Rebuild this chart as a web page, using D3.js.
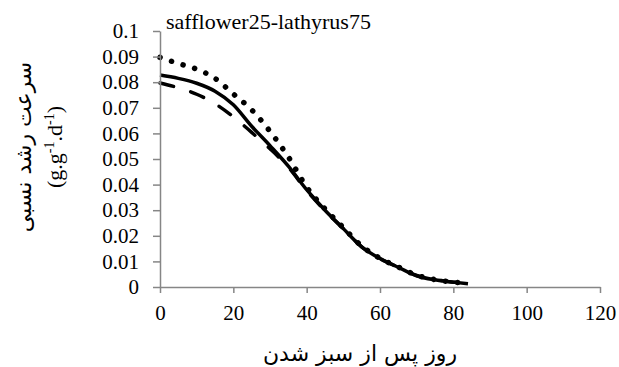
<!DOCTYPE html>
<html>
<head>
<meta charset="utf-8">
<script src="https://cdn.jsdelivr.net/npm/d3@7"></script>
</head>
<body style="margin:0">
<div id="chart"></div>
<script>
// days after emergence
const days = [0, 5, 10, 15, 20, 25, 30, 35, 40, 45, 50, 55, 60, 65, 70, 75, 80, 84];
// relative growth rate, three curves
const dotted = [0.0897, 0.0873, 0.0851, 0.0815, 0.0754, 0.0692, 0.0608, 0.0508, 0.0390, 0.0305, 0.0232, 0.0160, 0.0112, 0.0078, 0.0046, 0.0029, 0.0019, 0.0014];
const solid  = [0.0828, 0.0815, 0.0796, 0.0765, 0.0712, 0.0628, 0.0552, 0.0472, 0.0380, 0.0300, 0.0228, 0.0157, 0.0111, 0.0077, 0.0044, 0.0028, 0.0019, 0.0013];
const dashed = [0.0797, 0.0778, 0.0753, 0.0716, 0.0665, 0.0604, 0.0540, 0.0468, 0.0377, 0.0298, 0.0228, 0.0157, 0.0111, 0.0077, 0.0045, 0.0029, 0.0019, 0.0014];
const xTicks = [0, 20, 40, 60, 80, 100, 120];
const yTicks = [0, 0.01, 0.02, 0.03, 0.04, 0.05, 0.06, 0.07, 0.08, 0.09, 0.1];

const serif = "Times New Roman";
const persian = "DejaVu Sans";

const svg = d3.select("#chart")
    .append("svg")
    .attr("width", 619)
    .attr("height", 367);

const x = d3.scaleLinear().domain([0, 120]).range([160, 600]);
const y = d3.scaleLinear().domain([0, 0.1]).range([287, 31]);

// curves
const line = vals => d3.line()
    .x(d => x(d))
    .y((d, i) => y(vals[i]))
    .curve(d3.curveMonotoneX)(days);

svg.append("path")
    .attr("d", line(solid))
    .attr("fill", "none")
    .attr("stroke", "#000")
    .attr("stroke-width", 3.5);

svg.append("path")
    .attr("d", line(dashed))
    .attr("fill", "none")
    .attr("stroke", "#000")
    .attr("stroke-width", 3.5)
    .attr("stroke-linecap", "round")
    .attr("stroke-dasharray", "14 18");

svg.append("path")
    .attr("d", line(dotted))
    .attr("fill", "none")
    .attr("stroke", "#000")
    .attr("stroke-width", 5.5)
    .attr("stroke-linecap", "round")
    .attr("stroke-dasharray", "0.1 12");

// axes
const xAxis = svg.append("g")
    .attr("transform", `translate(0, ${y(0)})`)
    .call(d3.axisBottom(x).tickValues(xTicks).tickSize(6).tickPadding(12).tickSizeOuter(0));

const yAxis = svg.append("g")
    .attr("transform", `translate(${x(0)}, 0)`)
    .call(d3.axisLeft(y).tickValues(yTicks).tickSize(7).tickPadding(14).tickSizeOuter(0)
        .tickFormat(d => d === 0 ? "0" : String(+d.toFixed(2))));

svg.selectAll("g").attr("font-family", null).attr("font-size", null);

svg.selectAll(".domain, .tick line")
    .attr("stroke", "#868686")
    .attr("stroke-width", 1.5);

svg.selectAll(".tick text")
    .attr("font-family", serif)
    .attr("font-size", 21)
    .attr("fill", "#000");
xAxis.selectAll(".tick text").attr("dy", "0.71em");

// title
svg.append("text")
    .attr("x", 166)
    .attr("y", 29)
    .attr("font-family", serif)
    .attr("font-size", 22)
    .text("safflower25-lathyrus75");

// x axis title
svg.append("text")
    .attr("x", 360)
    .attr("y", 361)
    .attr("text-anchor", "middle")
    .attr("font-family", persian)
    .attr("font-size", 22)
    .text("روز پس از سبز شدن");

// y axis title, two lines
svg.append("text")
    .attr("transform", "translate(31, 147) rotate(-90)")
    .attr("text-anchor", "middle")
    .attr("font-family", persian)
    .attr("font-size", 22)
    .text("سرعت رشد نسبی");

const unit = svg.append("text")
    .attr("transform", "translate(62, 147) rotate(-90)")
    .attr("text-anchor", "middle")
    .attr("font-family", serif)
    .attr("font-size", 22);
unit.append("tspan").text("(g.g");
unit.append("tspan").attr("font-size", 14).attr("dy", -8).text("-1");
unit.append("tspan").attr("dy", 8).text(".d");
unit.append("tspan").attr("font-size", 14).attr("dy", -8).text("-1");
unit.append("tspan").attr("dy", 8).text(")");
</script>
</body>
</html>
